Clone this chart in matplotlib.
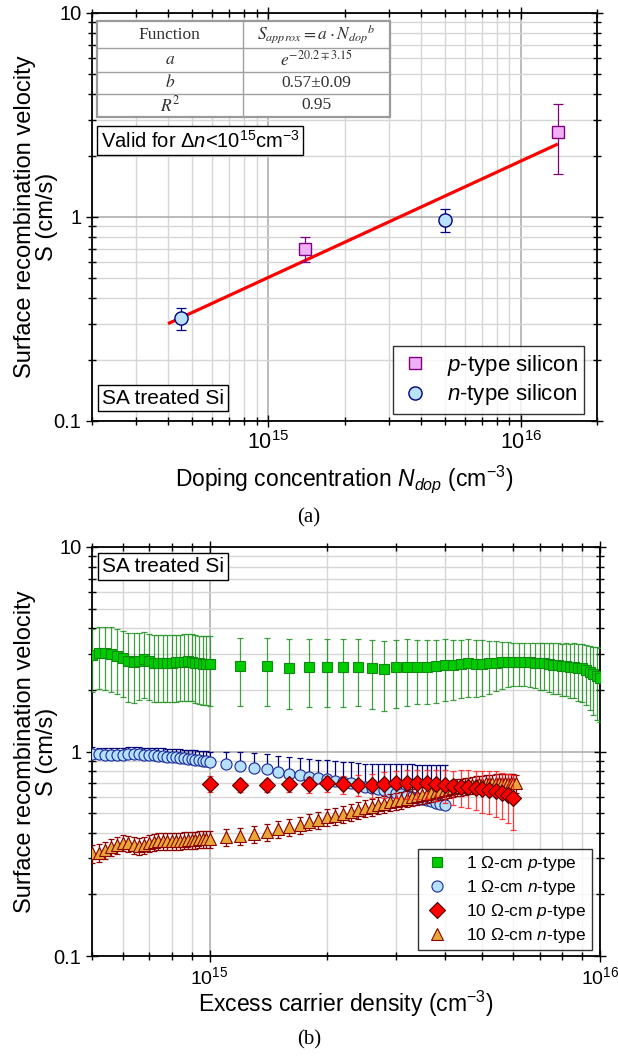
import numpy as np
import matplotlib
matplotlib.use("Agg")
import matplotlib.pyplot as plt
from matplotlib.ticker import LogLocator, FixedLocator, FixedFormatter, NullFormatter
from matplotlib.patches import Rectangle

plt.rcParams['font.family'] = ['Liberation Sans', 'DejaVu Sans']
plt.rcParams['mathtext.fontset'] = 'custom'
plt.rcParams['mathtext.rm'] = 'Liberation Sans'
plt.rcParams['mathtext.it'] = 'Liberation Sans:italic'
plt.rcParams['mathtext.bf'] = 'Liberation Sans:bold'

# ---- panel (a): S vs doping ----
ndop_p = [1.4e15, 1.4e16]
s_p = [0.70, 2.60]
s_p_err = [0.10, 0.98]
ndop_n = [4.5e14, 5.0e15]
s_n = [0.32, 0.97]
s_n_err = [0.04, 0.125]
fit_ndop = [4.0e14, 1.4e16]
fit_s = [0.30, 2.28]

table_rows = [
    ("Function", r"$S_{approx} = a \cdot N_{dop}{}^{b}$"),
    (r"$a$", r"$e^{-20.2\mp3.15}$"),
    (r"$b$", "0.57\u00b10.09"),
    (r"$R^{2}$", "0.95"),
]

# ---- panel (b): S vs excess carrier density ----
dense_dn = [5.0, 5.2, 5.4, 5.6, 5.8, 6.0, 6.2, 6.4, 6.6, 6.8, 7.0, 7.2, 7.4,
            7.6, 7.8, 8.0, 8.2, 8.4, 8.6, 8.8, 9.0, 9.2, 9.4, 9.6, 9.8, 10.0]  # x1e14

# 1 Ohm-cm p-type
p1_dense_s = [2.96, 3.04, 3.04, 3.00, 2.93, 2.86, 2.78, 2.75, 2.78, 2.82, 2.78, 2.72, 2.72,
              2.72, 2.72, 2.72, 2.73, 2.74, 2.75, 2.76, 2.75, 2.72, 2.70, 2.69, 2.68, 2.67]
p1_dense_err = [1.0, 1.02, 1.04, 1.04, 1.03, 1.02, 1.03, 1.03, 1.0, 1.0, 0.99, 0.98, 0.98,
                0.98, 0.98, 0.98, 0.98, 0.98, 0.99, 0.99, 0.99, 0.99, 0.99, 1.0, 1.0, 1.0]
p1_dn = [1.2, 1.4, 1.6, 1.8, 2.0, 2.2, 2.4, 2.6, 2.8, 3.0, 3.2, 3.4, 3.6, 3.8, 4.0,
         4.2, 4.4, 4.6, 4.8, 5.0, 5.2, 5.4, 5.6, 5.8, 6.0, 6.2, 6.4, 6.6, 6.8, 7.0,
         7.2, 7.4, 7.6, 7.8, 8.0, 8.2, 8.4, 8.6, 8.8, 9.0, 9.2, 9.4, 9.6, 9.8, 10.0]  # x1e15
p1_s = [2.62, 2.62, 2.57, 2.60, 2.60, 2.60, 2.60, 2.57, 2.53, 2.58, 2.60, 2.60, 2.60, 2.62, 2.65,
        2.65, 2.67, 2.70, 2.68, 2.68, 2.70, 2.72, 2.73, 2.75, 2.75, 2.75, 2.75, 2.73, 2.72, 2.70,
        2.70, 2.68, 2.65, 2.65, 2.62, 2.62, 2.60, 2.60, 2.57, 2.55, 2.50, 2.44, 2.38, 2.33, 2.30]
p1_err = [0.95, 0.95, 0.96, 0.95, 0.95, 0.95, 0.94, 0.95, 0.95, 0.94, 0.93, 0.9, 0.9, 0.9, 0.88,
          0.86, 0.85, 0.85, 0.84, 0.82, 0.78, 0.75, 0.72, 0.68, 0.65, 0.65, 0.65, 0.66, 0.68, 0.7,
          0.7, 0.72, 0.74, 0.75, 0.75, 0.76, 0.77, 0.78, 0.8, 0.8, 0.82, 0.85, 0.88, 0.9, 0.9]

# 1 Ohm-cm n-type (upper error only)
n1_dense_s = [0.975, 0.97, 0.965, 0.962, 0.962, 0.965, 0.97, 0.972, 0.97, 0.965, 0.962, 0.96, 0.955,
              0.95, 0.945, 0.94, 0.935, 0.93, 0.925, 0.92, 0.915, 0.91, 0.905, 0.9, 0.895, 0.89]
n1_dense_err = [0.075, 0.075, 0.076, 0.077, 0.078, 0.078, 0.078, 0.078, 0.079, 0.08, 0.081, 0.083, 0.085,
                0.087, 0.089, 0.091, 0.093, 0.095, 0.097, 0.099, 0.101, 0.103, 0.105, 0.107, 0.109, 0.11]
n1_dn = [1.1, 1.2, 1.3, 1.4, 1.5, 1.6, 1.7, 1.8, 1.9, 2.0, 2.1, 2.2, 2.3, 2.4, 2.5,
         2.6, 2.7, 2.8, 2.9, 3.0, 3.1, 3.2, 3.3, 3.4, 3.5, 3.6, 3.7, 3.8, 3.9, 4.0]  # x1e15
n1_s = [0.866, 0.849, 0.834, 0.818, 0.794, 0.776, 0.767, 0.753, 0.739, 0.731, 0.72, 0.706, 0.698, 0.685, 0.673,
        0.665, 0.655, 0.645, 0.635, 0.627, 0.618, 0.61, 0.60, 0.593, 0.585, 0.578, 0.57, 0.562, 0.555, 0.548]
n1_err = [0.134, 0.14, 0.145, 0.15, 0.155, 0.16, 0.163, 0.166, 0.17, 0.175, 0.18, 0.185, 0.19, 0.195, 0.2,
          0.205, 0.21, 0.22, 0.23, 0.24, 0.25, 0.26, 0.265, 0.27, 0.275, 0.28, 0.29, 0.295, 0.30, 0.31]

# 10 Ohm-cm p-type
p10_dn = [1.0, 1.2, 1.4, 1.6, 1.8, 2.0, 2.2, 2.4, 2.6, 2.8, 3.0, 3.2, 3.4,
          3.6, 3.8, 4.0, 4.2, 4.4, 4.6, 4.8, 5.0, 5.2, 5.4, 5.6, 5.8, 6.0]  # x1e15
p10_s = [0.694, 0.685, 0.685, 0.69, 0.69, 0.698, 0.69, 0.685, 0.685, 0.694, 0.698, 0.698, 0.698,
         0.698, 0.694, 0.685, 0.677, 0.673, 0.668, 0.66, 0.653, 0.648, 0.641, 0.629, 0.612, 0.59]
p10_err = [0.062, 0.05, 0.05, 0.055, 0.06, 0.065, 0.07, 0.08, 0.09, 0.1, 0.105, 0.11, 0.11,
           0.115, 0.12, 0.125, 0.13, 0.135, 0.14, 0.145, 0.15, 0.155, 0.16, 0.16, 0.165, 0.175]

# 10 Ohm-cm n-type
n10_dense_s = [0.318, 0.32, 0.33, 0.34, 0.349, 0.358, 0.355, 0.349, 0.345, 0.349, 0.355, 0.36, 0.364,
               0.364, 0.365, 0.366, 0.365, 0.365, 0.367, 0.369, 0.369, 0.37, 0.372, 0.372, 0.373, 0.374]
n10_dense_err = [0.032, 0.032, 0.032, 0.033, 0.033, 0.033, 0.033, 0.033, 0.033, 0.034, 0.034, 0.034, 0.034,
                 0.034, 0.034, 0.035, 0.035, 0.035, 0.035, 0.035, 0.035, 0.035, 0.036, 0.036, 0.036, 0.036]
n10_dn = [1.1, 1.2, 1.3, 1.4, 1.5, 1.6, 1.7, 1.8, 1.9, 2.0, 2.1, 2.2, 2.3, 2.4, 2.5,
          2.6, 2.7, 2.8, 2.9, 3.0, 3.1, 3.2, 3.3, 3.4, 3.5, 3.6, 3.7, 3.8, 3.9, 4.0,
          4.1, 4.2, 4.3, 4.4, 4.5, 4.6, 4.7, 4.8, 4.9, 5.0, 5.1, 5.2, 5.3, 5.4, 5.5,
          5.6, 5.7, 5.8, 5.9, 6.0, 6.1]  # x1e15
n10_s = [0.381, 0.386, 0.395, 0.405, 0.416, 0.429, 0.437, 0.454, 0.463, 0.476, 0.483, 0.494, 0.506, 0.518, 0.529,
         0.537, 0.546, 0.555, 0.564, 0.573, 0.581, 0.589, 0.597, 0.605, 0.613, 0.62, 0.628, 0.635, 0.642, 0.648,
         0.655, 0.661, 0.667, 0.672, 0.677, 0.682, 0.686, 0.69, 0.694, 0.697, 0.699, 0.701, 0.703, 0.704, 0.705,
         0.705, 0.705, 0.704, 0.703, 0.702, 0.70]
n10_err = [0.036, 0.037, 0.038, 0.039, 0.04, 0.041, 0.042, 0.043, 0.044, 0.045, 0.046, 0.047, 0.048, 0.049, 0.05,
           0.051, 0.052, 0.052, 0.053, 0.054, 0.055, 0.055, 0.056, 0.057, 0.058, 0.058, 0.059, 0.06, 0.06, 0.061,
           0.062, 0.062, 0.063, 0.063, 0.064, 0.064, 0.065, 0.065, 0.066, 0.066, 0.067, 0.067, 0.068, 0.068, 0.069,
           0.069, 0.07, 0.07, 0.07, 0.071, 0.071]

W, H = 618, 1057
fig = plt.figure(figsize=(W / 100, H / 100), dpi=100)


def px_axes(left, top, right, bottom):
    return fig.add_axes([left / W, 1 - bottom / H, (right - left) / W, (bottom - top) / H])


def style_axes(ax, xsize):
    ax.set_xscale('log')
    ax.set_yscale('log')
    ax.set_ylim(0.1, 10)
    ax.yaxis.set_major_locator(FixedLocator([0.1, 1, 10]))
    ax.yaxis.set_major_formatter(FixedFormatter(['0.1', '1', '10']))
    ax.yaxis.set_minor_locator(LogLocator(base=10, subs=np.arange(2, 10)))
    ax.yaxis.set_minor_formatter(NullFormatter())
    ax.xaxis.set_major_locator(LogLocator(base=10))
    ax.xaxis.set_minor_locator(LogLocator(base=10, subs=np.arange(2, 10)))
    ax.xaxis.set_minor_formatter(NullFormatter())
    ax.grid(which='major', color='#a8a8a8', lw=1.1)
    ax.grid(which='minor', color='#d6d6d6', lw=1.0)
    ax.set_axisbelow(True)
    ax.tick_params(which='both', direction='inout', top=True, right=True, width=1.0, pad=3)
    ax.tick_params(axis='y', labelsize=14.5)
    ax.tick_params(axis='x', labelsize=xsize)
    ax.tick_params(which='major', length=9)
    ax.tick_params(which='minor', length=6)
    for sp in ax.spines.values():
        sp.set_linewidth(1.3)


def boxed_text(ax, x, y, s, size):
    ax.text(x, y, s, transform=ax.transAxes, fontsize=size, ha='left', va='center', zorder=6,
            bbox=dict(boxstyle='square,pad=0.18', fc='white', ec='black', lw=1.0))


# ================= panel (a) =================
ax1 = px_axes(92, 13, 597, 421)
style_axes(ax1, 15.5)
ax1.set_xlim(2e14, 2e16)

ax1.plot(fit_ndop, fit_s, color='#ff0000', lw=2.3, zorder=3, solid_capstyle='butt')
ax1.errorbar(ndop_p, s_p, yerr=s_p_err, fmt='none', ecolor='#800080', elinewidth=0.9,
             capsize=3.5, capthick=0.9, zorder=4)
ax1.errorbar(ndop_n, s_n, yerr=s_n_err, fmt='none', ecolor='#000080', elinewidth=0.9,
             capsize=3.5, capthick=0.9, zorder=4)
hp, = ax1.plot(ndop_p, s_p, ls='none', marker='s', ms=8, mfc='#f0b0f5', mec='#800080',
               mew=1.0, zorder=5)
hn, = ax1.plot(ndop_n, s_n, ls='none', marker='o', ms=9.5, mfc='#b8e2ff', mec='#000080',
               mew=1.0, zorder=5)

ax1.set_xlabel(r'Doping concentration $N_{dop}$ (cm$^{-3}$)', fontsize=16.5)
ax1.xaxis.set_label_coords(0.5, -0.105)

leg1 = ax1.legend([hp, hn], [r'$p$-type silicon', r'$n$-type silicon'], loc='lower right',
                  bbox_to_anchor=(0.975, 0.017), borderaxespad=0, fontsize=16, frameon=True,
                  fancybox=False, edgecolor='black', handlelength=1.3, handletextpad=0.8,
                  borderpad=0.3, labelspacing=0.2)
leg1.get_frame().set_linewidth(1.0)
leg1.set_zorder(7)

# parameter table
tl, tr, tc = 0.0093, 0.590, 0.299
row_edges = [0.981, 0.913, 0.856, 0.801, 0.746]
ax1.add_patch(Rectangle((tl, row_edges[-1]), tr - tl, row_edges[0] - row_edges[-1],
                        transform=ax1.transAxes, fc='white', ec='#9a9a9a', lw=1.6, zorder=6))
for yy in row_edges[1:-1]:
    ax1.plot([tl, tr], [yy, yy], transform=ax1.transAxes, color='#a0a0a0', lw=1.0, zorder=6)
ax1.plot([tc, tc], [row_edges[-1], row_edges[0]], transform=ax1.transAxes, color='#a0a0a0',
         lw=1.0, zorder=6)
for i, (c1, c2) in enumerate(table_rows):
    yc = (row_edges[i] + row_edges[i + 1]) / 2
    for xc, s in ((tl + tc) / 2, c1), ((tc + tr) / 2, c2):
        ax1.text(xc, yc, s, transform=ax1.transAxes, ha='center', va='center', fontsize=12.5,
                 family='Liberation Serif', math_fontfamily='stix', color='#303030', zorder=7)

boxed_text(ax1, 0.017, 0.687, r'Valid for $\Delta n$<10$^{15}$cm$^{-3}$', 14.5)
boxed_text(ax1, 0.02, 0.056, 'SA treated Si', 15)

# ================= panel (b) =================
ax2 = px_axes(92, 547, 600, 956)
style_axes(ax2, 14)
ax2.set_xlim(5e14, 1e16)

dense_x = np.array(dense_dn) * 1e14


def series(x, y, err, marker, ms, fc, ec, ecol, z, upper_only=False, alpha=1.0):
    err = np.asarray(err)
    yerr = [np.zeros_like(err), err] if upper_only else err
    ax2.errorbar(x, y, yerr=yerr, fmt='none', ecolor=ecol, elinewidth=0.9, capsize=2.5,
                 capthick=0.9, zorder=z, alpha=alpha)
    h, = ax2.plot(x, y, ls='none', marker=marker, ms=ms, mfc=fc, mec=ec, mew=0.8, zorder=z + 0.1)
    return h


h1 = series(np.concatenate([dense_x, np.array(p1_dn) * 1e15]), p1_dense_s + p1_s,
            p1_dense_err + p1_err, 's', 7.3, '#00cc00', '#118811', '#1f8f1f', 3, alpha=0.85)
h2 = series(np.concatenate([dense_x, np.array(n1_dn) * 1e15]), n1_dense_s + n1_s,
            n1_dense_err + n1_err, 'o', 8, '#b5e0ff', '#1a2a9a', '#00007a', 3.5, upper_only=True)
h4 = series(np.concatenate([dense_x, np.array(n10_dn) * 1e15]), n10_dense_s + n10_s,
            n10_dense_err + n10_err, '^', 8.5, '#e8a838', '#8b0000', '#8b0000', 4)
h3 = series(np.array(p10_dn) * 1e15, p10_s, p10_err, 'D', 8.5, '#ff0000', '#4a0000',
            '#ff2020', 4.5, alpha=0.85)

ax2.set_xlabel(r'Excess carrier density (cm$^{-3}$)', fontsize=16.5)
ax2.xaxis.set_label_coords(0.5, -0.081)

leg2 = ax2.legend([h1, h2, h3, h4],
                  ['1 \u03a9-cm $p$-type', '1 \u03a9-cm $n$-type',
                   '10 \u03a9-cm $p$-type', '10 \u03a9-cm $n$-type'],
                  loc='lower right', bbox_to_anchor=(0.984, 0.015), borderaxespad=0, fontsize=12.5,
                  frameon=True, fancybox=False, edgecolor='black', handlelength=1.6,
                  handletextpad=0.9, borderpad=0.3, labelspacing=0.28)
leg2.get_frame().set_linewidth(1.0)
leg2.set_zorder(7)

boxed_text(ax2, 0.02, 0.952, 'SA treated Si', 15)

# y labels and captions
ylab = 'Surface recombination velocity\nS (cm/s)'
for yc in ((13 + 421) / 2, (547 + 956) / 2):
    fig.text(36 / W, 1 - yc / H, ylab, rotation=90, ha='center', va='center', fontsize=17,
             multialignment='center', linespacing=1.0)
fig.text(0.5, 1 - 518 / H, '(a)', ha='center', va='center', fontsize=15, family='Liberation Serif')
fig.text(0.5, 1 - 1040 / H, '(b)', ha='center', va='center', fontsize=15, family='Liberation Serif')

fig.savefig('out.png', dpi=100)
